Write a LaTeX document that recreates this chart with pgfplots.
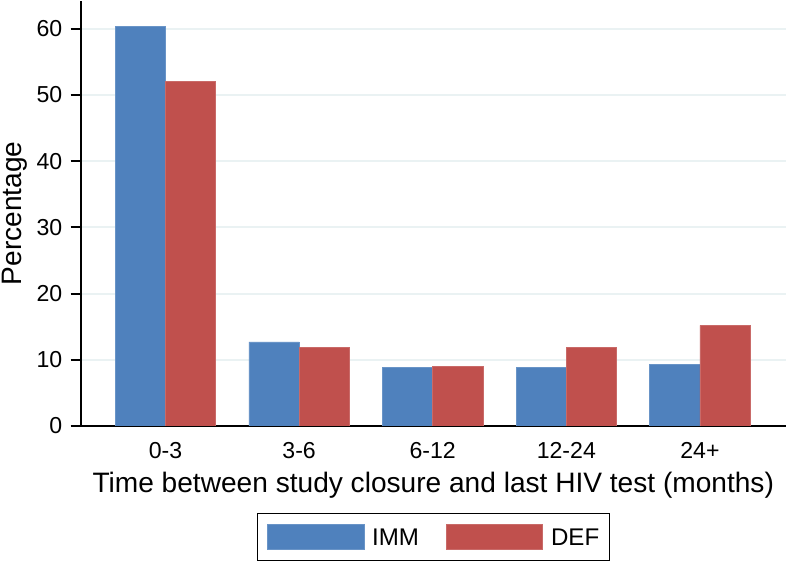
\documentclass[border=0pt]{standalone}
\usepackage{fontspec}
\setmainfont{Liberation Sans}
\usepackage{pgfplots}
\pgfplotsset{compat=1.18}
\definecolor{immblue}{RGB}{79,129,189}
\definecolor{defred}{RGB}{192,80,77}
\definecolor{gridc}{RGB}{234,242,243}
\begin{document}
\begin{tikzpicture}
\begin{axis}[
  scale only axis, width=703pt, height=423.5pt,
  ybar=0pt, bar width=50pt,
  xmin=-0.6357, xmax=4.644, ymin=0, ymax=64.2,
  xtick={0,1,2,3,4}, xticklabels={0-3,3-6,6-12,12-24,24+},
  ytick={0,10,20,30,40,50,60},
  axis lines=left, axis line style={line width=2pt, -},
  tick align=outside, major tick length=10pt,
  xtick style={draw=none},
  ytick style={line width=2pt, black},
  ymajorgrids, grid style={gridc, line width=2pt},
  /pgf/number format/assume math mode=true,
  ticklabel style={font=\fontsize{23}{27}\selectfont, inner sep=0pt},
  xticklabel style={anchor=north, yshift=-6pt},
  yticklabel style={anchor=east, xshift=-8pt},
  xlabel={Time between study closure and last HIV test (months)},
  xlabel style={at={([yshift=-65.8pt]rel axis cs:0.5,0)}, anchor=base, inner sep=0pt, font=\fontsize{28}{32}\selectfont},
  ylabel={Percentage},
  ylabel style={at={([xshift=-59pt]rel axis cs:0,0.5)}, anchor=base, inner sep=2pt, font=\fontsize{28}{32}\selectfont},
  legend columns=-1,
  legend style={at={(rel axis cs:0.5,-0.20425)}, anchor=north, draw=black, line width=1.2pt,
    inner xsep=10pt, inner ysep=10.5pt, font=\fontsize{24}{28}\selectfont,
    nodes={inner sep=0pt, text depth=0pt},
    /tikz/every even column/.append style={column sep=27pt}},
]
\addplot[fill=immblue, draw=immblue!85!white, line width=0.6pt,
  legend image code/.code={\fill[fill=immblue] (0pt,-12.5pt) rectangle (96pt,12.5pt);}]
  coordinates {(0,60.4) (1,12.7) (2,8.9) (3,8.9) (4,9.3)};
\addlegendentry{\hspace*{8pt}IMM}
\addplot[fill=defred, draw=defred!85!white, line width=0.6pt,
  legend image code/.code={\fill[fill=defred] (0pt,-12.5pt) rectangle (96pt,12.5pt);}]
  coordinates {(0,52.0) (1,11.9) (2,9.05) (3,11.9) (4,15.2)};
\addlegendentry{\hspace*{8pt}DEF}
\end{axis}
\end{tikzpicture}
\end{document}
